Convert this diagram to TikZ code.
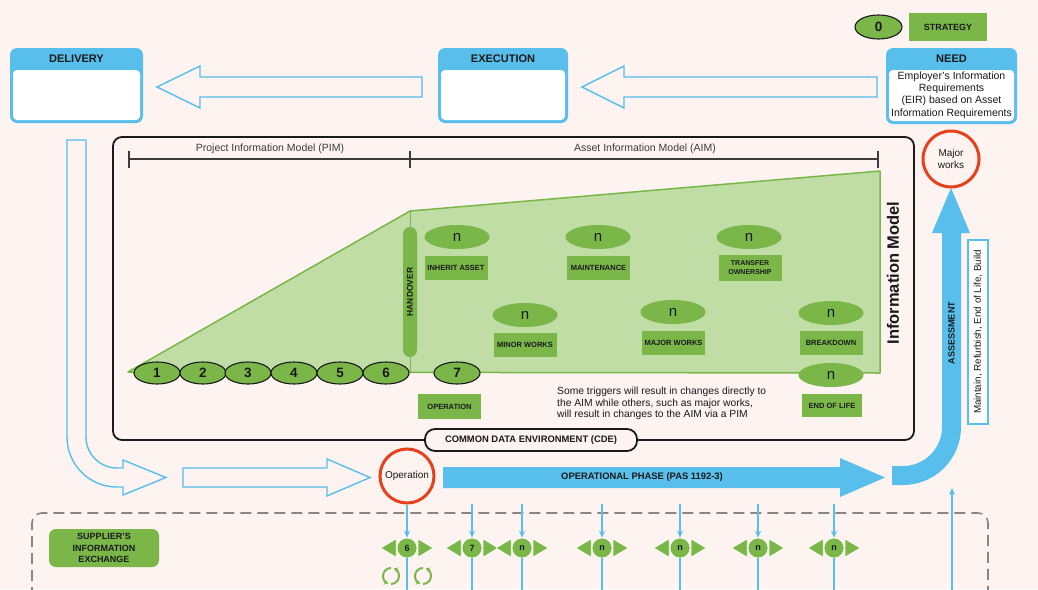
\documentclass[tikz,border=0pt]{standalone}
\usepackage{fontspec}
\setmainfont{Liberation Sans}
\usetikzlibrary{shapes.geometric,arrows.meta}
\definecolor{bgc}{HTML}{FDF3F1}
\definecolor{cblue}{HTML}{58BEEC}
\definecolor{cgreen}{HTML}{7AB648}
\definecolor{clight}{HTML}{BFDDA5}
\definecolor{cred}{HTML}{E5411C}
\definecolor{cgray}{HTML}{8A8582}
\definecolor{ink}{HTML}{1A1A1A}
\newcommand\phasebox[6]{%
  \fill[cblue, rounded corners=7pt] (#2,#3) rectangle (#4,#5);
  \fill[white, rounded corners=4pt] (#2+3,#3+22) rectangle (#4-3,#5-3);
  \node[hdr] (#1) at ({(#2+#4)/2},#3+11) {#6};}
\newcommand\bmarker[3]{%
  \filldraw[fill=cgreen, draw=white, line width=0.5pt] (#2-11,539) -- (#2-11,557) -- (#2-26,548) -- cycle;
  \filldraw[fill=cgreen, draw=white, line width=0.5pt] (#2+11,539) -- (#2+11,557) -- (#2+26,548) -- cycle;
  \node[mk] (#1) at (#2,548) {#3};
  \coordinate (#1t) at (#2,504);
  \coordinate (#1b) at (#2,595);}
\begin{document}
\begin{tikzpicture}[x=1pt,y=-1pt,
  hdr/.style={font=\fontsize{11}{13}\selectfont\bfseries, text=ink},
  harrow/.style={draw=cblue, line width=1.4pt, fill=bgc, line join=miter},
  numell/.style={ellipse, draw=ink, line width=1.1pt, fill=cgreen, minimum width=46pt, minimum height=22pt, inner sep=0pt, font=\fontsize{13.5}{14}\selectfont\bfseries, text=ink},
  nell/.style={ellipse, fill=cgreen, minimum width=65pt, minimum height=24pt, inner sep=0pt, font=\fontsize{15}{16}\selectfont, text=ink},
  lbl/.style={rectangle, fill=cgreen, minimum width=63pt, minimum height=24pt, inner sep=0pt, align=center, font=\fontsize{7.5}{9}\selectfont\bfseries, text=ink},
  mk/.style={circle, fill=cgreen, draw=white, line width=0.6pt, minimum size=20pt, inner sep=0pt, font=\fontsize{9}{10}\selectfont\bfseries, text=ink},
  bline/.style={draw=cblue, line width=1.2pt, -{Stealth[length=7pt,width=6pt]}},
  vline/.style={draw=cblue, line width=1.2pt},
  ring/.style={circle, draw=cred, line width=3pt, fill=bgc, inner sep=0pt, align=center, font=\fontsize{10}{12}\selectfont, text=ink},
  dimline/.style={draw=ink!85, line width=1.2pt},
  cycarrow/.style={draw=cgreen, line width=2pt, -{Stealth[length=4pt,width=5pt]}}
]
\fill[bgc] (0,0) rectangle (1038,589);
\useasboundingbox (0,0) rectangle (1038,589);

% top boxes
\phasebox{delivery}{10}{48}{143}{123}{DELIVERY}
\phasebox{execution}{438}{48}{568}{123}{EXECUTION}
\phasebox{need}{886}{48}{1017}{124}{NEED}
\node[font=\fontsize{10.5}{12.3}\selectfont, align=center, text=ink] (needtxt) at (951.5,95) {Employer's Information\\Requirements\\(EIR) based on Asset\\Information Requirements};

% strategy
\node[numell, minimum width=47pt, minimum height=24pt] (s0) at (878.5,27) {0};
\node[rectangle, fill=cgreen, minimum width=78pt, minimum height=28pt, inner sep=0pt, font=\fontsize{9}{10}\selectfont\bfseries, text=ink] (strat) at (948,27) {STRATEGY};

% hollow arrows top
\draw[harrow] (877,77) -- (624,77) -- (624,66) -- (582,87) -- (624,108) -- (624,97) -- (877,97) -- cycle;
\draw[harrow] (422,77) -- (200,77) -- (200,66) -- (157,87) -- (200,108) -- (200,97) -- (422,97) -- cycle;

% U arrow and straight hollow arrow
\draw[harrow] (67,140) -- (86,140) -- (86,437) arc[start angle=180,end angle=90,radius=31] -- (123,468) -- (123,460) -- (166,477.5) -- (123,495) -- (123,487) -- (117,487) arc[start angle=90,end angle=180,radius=50] -- cycle;
\draw[harrow] (183,468) -- (327,468) -- (327,459) -- (370,477.5) -- (327,496) -- (327,487) -- (183,487) -- cycle;

% information model box
\draw[draw=ink, line width=1.8pt, rounded corners=9pt] (113,137) rectangle (914,440);

% dimension lines
\draw[dimline] (129,159) -- (878,159);
\draw[dimline] (129,151) -- (129,168);
\draw[dimline] (410,151) -- (410,168);
\draw[dimline] (878,151) -- (878,168);
\node[font=\fontsize{10.5}{12}\selectfont, text=ink!85] (pim) at (270,149) {Project Information Model (PIM)};
\node[font=\fontsize{10.5}{12}\selectfont, text=ink!85] (aim) at (645,149) {Asset Information Model (AIM)};

% green area
\filldraw[fill=clight, draw=cgreen, line width=1.5pt, line join=round] (128,372) -- (410,211) -- (880,171) -- (880,373) -- cycle;
\draw[cgreen, line width=1pt] (410,211) -- (410,373);
\node[rectangle, rounded corners=7pt, fill=cgreen, rotate=90, minimum width=130pt, minimum height=14pt, inner sep=0pt, font=\fontsize{8.5}{9}\selectfont\bfseries, text=ink] (ho) at (410,292) {HANDOVER};

% numbered ellipses
\foreach \i/\x in {1/157,2/203,3/248,4/294,5/340,6/386}
  \node[numell] (e\i) at (\x,373) {\i};
\node[numell] (e7) at (457,373) {7};
\node[lbl, minimum width=63pt, minimum height=25pt] (oper) at (449.5,406.5) {OPERATION};

% triggers
\node[nell] (nInh) at (457,237) {n};
\node[lbl] (tInh) at (456,268) {INHERIT ASSET};
\node[nell] (nMai) at (598,237) {n};
\node[lbl] (tMai) at (598.5,268) {MAINTENANCE};
\node[nell] (nTra) at (749,237) {n};
\node[lbl, minimum height=26pt, font=\fontsize{7}{9}\selectfont\bfseries] (tTra) at (750,268) {TRANSFER\\OWNERSHIP};
\node[nell] (nMin) at (525,315) {n};
\node[lbl] (tMin) at (525,345) {MINOR WORKS};
\node[nell] (nMaj) at (673,312) {n};
\node[lbl] (tMaj) at (673.5,342.5) {MAJOR WORKS};
\node[nell] (nBrk) at (831,313) {n};
\node[lbl] (tBrk) at (831,343) {BREAKDOWN};
\node[nell] (nEol) at (831,375) {n};
\node[lbl, minimum width=60pt, minimum height=23pt] (tEol) at (832,405.5) {END OF LIFE};

\node[anchor=north west, align=left, font=\fontsize{10.3}{11.5}\selectfont, inner sep=0pt, text=ink] (trig) at (557,387) {Some triggers will result in changes directly to\\the AIM while others, such as major works,\\will result in changes to the AIM via a PIM};

\node[rotate=90, font=\fontsize{16.5}{18}\selectfont\bfseries, text=ink] (imt) at (893,273) {Information Model};

% CDE
\node[draw=ink, line width=1.8pt, fill=bgc, rounded corners=10pt, minimum width=212pt, minimum height=22pt, inner sep=0pt, font=\fontsize{9.4}{10}\selectfont\bfseries, text=ink] (cde) at (531,440) {COMMON DATA ENVIRONMENT (CDE)};

% operational phase
\fill[cblue] (443,467) -- (840,467) -- (840,458) -- (885,477.5) -- (840,497) -- (840,488) -- (443,488) -- cycle;
\node[font=\fontsize{9.4}{10}\selectfont\bfseries, text=ink] (opph) at (642,477.5) {OPERATIONAL PHASE (PAS 1192-3)};
\node[ring, minimum size=54pt] (op) at (407,476) {Operation};

% assessment arrow
\fill[cblue] (951,188) -- (970,233) -- (961,233) -- (961,427) arc[start angle=0,end angle=90,radius=58] -- (892,485) -- (892,466) -- (903,466) arc[start angle=90,end angle=0,radius=39] -- (942,233) -- (932,233) -- cycle;
\node[rotate=90, font=\fontsize{9}{10}\selectfont\bfseries, text=ink] (ass) at (951.5,333) {ASSESSMENT};
\node[draw=cblue, line width=1.2pt, fill=white, rotate=90, minimum width=184pt, minimum height=20pt, inner sep=0pt, font=\fontsize{9.8}{11}\selectfont, text=ink] (mrb) at (978,332) {Maintain, Refurbish, End of Life, Build};
\node[ring, minimum size=56pt] (mw) at (951,159) {Major\\works};

% supplier's information exchange
\draw[cgray, line width=1.6pt, dash pattern=on 11pt off 6pt, rounded corners=10pt] (32,598) -- (32,513) -- (988,513) -- (988,598);
\node[rectangle, rounded corners=7pt, fill=cgreen, minimum width=110pt, minimum height=38pt, inner sep=0pt, align=center, font=\fontsize{9}{11.5}\selectfont\bfseries, text=ink] (sie) at (104,548) {SUPPLIER'S\\INFORMATION\\EXCHANGE};

\bmarker{m6}{407}{6}
\bmarker{m7}{472}{7}
\bmarker{ma}{522}{n}
\bmarker{mb}{602}{n}
\bmarker{mc}{680}{n}
\bmarker{md}{758}{n}
\bmarker{me}{834}{n}

\draw[bline] (op.south) -- (m6.north);
\draw[vline] (m6.south) -- (m6b);
\foreach \m in {m7,ma,mb,mc,md,me}{
  \draw[bline] (\m t) -- (\m.north);
  \draw[vline] (\m.south) -- (\m b);
}
\coordinate (ub) at (952,595);
\coordinate (ut) at (952,488);
\draw[bline] (ub) -- (ut);

% cycle icons
\draw[cycarrow] (391,568) arc[start angle=270,end angle=110,radius=8];
\draw[cycarrow] (391,584) arc[start angle=90,end angle=-70,radius=8];
\draw[cycarrow] (423,568) arc[start angle=270,end angle=110,radius=8];
\draw[cycarrow] (423,584) arc[start angle=90,end angle=-70,radius=8];
\end{tikzpicture}
\end{document}
